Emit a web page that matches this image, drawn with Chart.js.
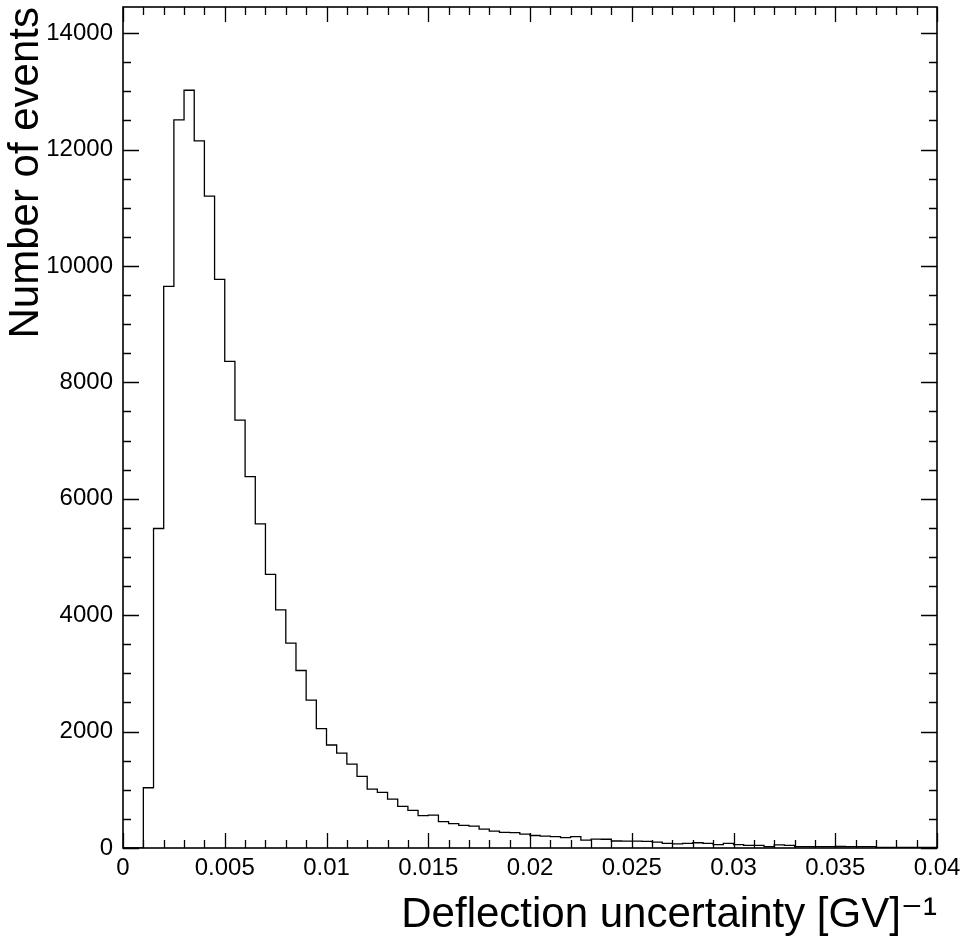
<!DOCTYPE html>
<html>
<head>
<meta charset="utf-8">
<script src="https://cdn.jsdelivr.net/npm/chart.js@4.4.1/dist/chart.umd.min.js"></script>
<style>
  html, body { margin: 0; padding: 0; background: #fff; }
  #c { display: block; }
</style>
</head>
<body>
<canvas id="c" width="963" height="937"></canvas>
<script>
// Bin left edges (GV^-1) and the closing right edge
const binEdges = [
  0, 0.0005, 0.001, 0.0015, 0.002, 0.0025, 0.003, 0.0035, 0.004, 0.0045,
  0.005, 0.0055, 0.006, 0.0065, 0.007, 0.0075, 0.008, 0.0085, 0.009, 0.0095,
  0.01, 0.0105, 0.011, 0.0115, 0.012, 0.0125, 0.013, 0.0135, 0.014, 0.0145,
  0.015, 0.0155, 0.016, 0.0165, 0.017, 0.0175, 0.018, 0.0185, 0.019, 0.0195,
  0.02, 0.0205, 0.021, 0.0215, 0.022, 0.0225, 0.023, 0.0235, 0.024, 0.0245,
  0.025, 0.0255, 0.026, 0.0265, 0.027, 0.0275, 0.028, 0.0285, 0.029, 0.0295,
  0.03, 0.0305, 0.031, 0.0315, 0.032, 0.0325, 0.033, 0.0335, 0.034, 0.0345,
  0.035, 0.0355, 0.036, 0.0365, 0.037, 0.0375, 0.038, 0.0385, 0.039, 0.0395,
  0.04
];

// Number of events in each bin
const counts = [
  0, 0, 1035, 5490, 9650, 12510, 13020, 12150, 11200, 9770,
  8360, 7350, 6380, 5570, 4700, 4090, 3520, 3050, 2540, 2050,
  1770, 1630, 1440, 1230, 1010, 955, 840, 715, 645, 555,
  565, 452, 420, 390, 375, 326, 290, 269, 265, 238,
  215, 205, 195, 177, 195, 135, 152, 150, 120, 118,
  118, 115, 100, 80, 70, 80, 90, 80, 57, 78,
  57, 46, 46, 25, 55, 45, 25, 25, 25, 24,
  26, 23, 25, 24, 12, 12, 12, 11, 12, 12
];

const xTickValues = [0, 0.005, 0.01, 0.015, 0.02, 0.025, 0.03, 0.035, 0.04];
const xTickLabels = ['0', '0.005', '0.01', '0.015', '0.02', '0.025', '0.03', '0.035', '0.04'];
const yTickValues = [0, 2000, 4000, 6000, 8000, 10000, 12000, 14000];
const yTickLabels = ['0', '2000', '4000', '6000', '8000', '10000', '12000', '14000'];

const xTitle = 'Deflection uncertainty [GV]\u207B\u00B9';
const yTitle = 'Number of events';

// Build step points: each bin's left edge with its count, plus the closing edge
const points = counts.map((v, i) => ({ x: binEdges[i], y: v }));
points.push({ x: binEdges[binEdges.length - 1], y: counts[counts.length - 1] });

const X_MIN = 0, X_MAX = 0.04, Y_MIN = 0, Y_MAX = 14450;

function labelFor(values, labels, v) {
  const i = values.findIndex(t => Math.abs(t - v) < 1e-7 * Math.max(1, Math.abs(t)));
  return i >= 0 ? labels[i] : '';
}

const frameAndTicks = {
  id: 'frameAndTicks',
  afterDatasetsDraw(chart) {
    const { ctx, chartArea: a, scales } = chart;
    const x = scales.x, y = scales.y;
    ctx.save();
    ctx.strokeStyle = '#000';
    ctx.lineWidth = 1.3;
    ctx.beginPath();
    const xMinorStep = 0.001;
    for (let k = 0; k * xMinorStep <= X_MAX + 1e-9; k++) {
      const v = k * xMinorStep;
      const isMajor = xTickValues.some(m => Math.abs(m - v) < 1e-7);
      const len = isMajor ? 15 : 8;
      const px = Math.round(x.getPixelForValue(v)) + 0.5;
      ctx.moveTo(px, a.bottom); ctx.lineTo(px, a.bottom - len);
      ctx.moveTo(px, a.top); ctx.lineTo(px, a.top + len);
    }
    const yMinorStep = 500;
    for (let k = 0; k * yMinorStep <= Y_MAX; k++) {
      const v = k * yMinorStep;
      const isMajor = yTickValues.includes(v);
      const len = isMajor ? 16 : 8;
      const py = Math.round(y.getPixelForValue(v)) + 0.5;
      ctx.moveTo(a.left, py); ctx.lineTo(a.left + len, py);
      ctx.moveTo(a.right, py); ctx.lineTo(a.right - len, py);
    }
    ctx.stroke();
    ctx.lineWidth = 1.6;
    ctx.strokeRect(a.left, a.top, a.right - a.left, a.bottom - a.top);
    ctx.restore();
  }
};

const labelFont = { family: 'Liberation Sans, Arial, sans-serif', size: 24 };

new Chart(document.getElementById('c'), {
  type: 'line',
  data: {
    datasets: [{
      data: points,
      stepped: true,
      borderColor: '#000',
      borderWidth: 1.3,
      pointRadius: 0,
      fill: false,
      tension: 0
    }]
  },
  options: {
    responsive: false,
    animation: false,
    devicePixelRatio: 1,
    layout: { padding: 0 },
    plugins: { legend: { display: false }, tooltip: { enabled: false } },
    scales: {
      x: {
        type: 'linear', position: 'bottom', min: X_MIN, max: X_MAX,
        grid: { display: false, drawTicks: false },
        border: { display: false },
        afterBuildTicks: (s) => { s.ticks = xTickValues.map(v => ({ value: v })); },
        ticks: {
          color: '#000', font: labelFont, padding: 6,
          maxRotation: 0, autoSkip: false,
          callback: (v) => labelFor(xTickValues, xTickLabels, v)
        },
        title: {
          display: true, text: xTitle, align: 'end', color: '#000',
          font: { family: 'Liberation Sans, DejaVu Sans, sans-serif', size: 42 },
          padding: { top: 0, bottom: -4 }
        },
        afterFit: (s) => { s.height = 89; s.paddingLeft = 0; s.paddingRight = 0; }
      },
      x2: {
        type: 'linear', position: 'top', min: X_MIN, max: X_MAX,
        grid: { display: false, drawTicks: false }, border: { display: false },
        ticks: { display: false },
        afterFit: (s) => { s.height = 7; s.paddingLeft = 0; s.paddingRight = 0; }
      },
      y: {
        type: 'linear', position: 'left', min: Y_MIN, max: Y_MAX,
        grid: { display: false, drawTicks: false },
        border: { display: false },
        afterBuildTicks: (s) => { s.ticks = yTickValues.map(v => ({ value: v })); },
        ticks: {
          color: '#000', font: labelFont, padding: 10, autoSkip: false,
          callback: (v) => labelFor(yTickValues, yTickLabels, v)
        },
        title: {
          display: true, text: yTitle, align: 'end', color: '#000',
          font: { family: 'Liberation Sans, DejaVu Sans, sans-serif', size: 42 },
          padding: { top: 1, bottom: 0 }
        },
        afterFit: (s) => { s.width = 123; s.paddingTop = 0; s.paddingBottom = 0; }
      },
      y2: {
        type: 'linear', position: 'right', min: Y_MIN, max: Y_MAX,
        grid: { display: false, drawTicks: false }, border: { display: false },
        ticks: { display: false },
        afterFit: (s) => { s.width = 26; s.paddingTop = 0; s.paddingBottom = 0; }
      }
    }
  },
  plugins: [frameAndTicks]
});
</script>
</body>
</html>
